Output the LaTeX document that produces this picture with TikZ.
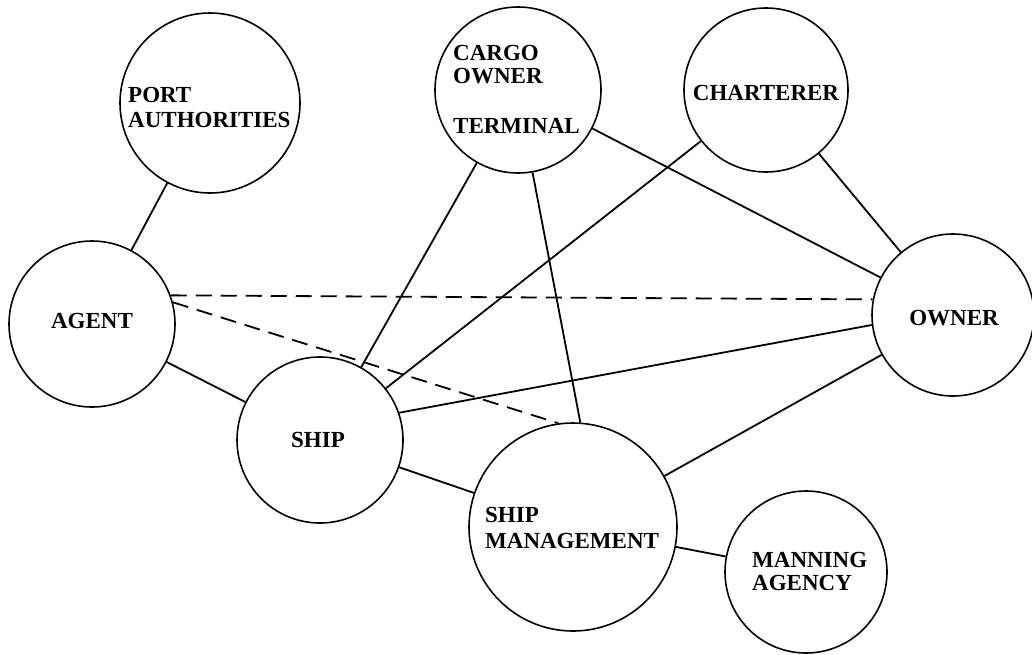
\documentclass[tikz,border=0pt]{standalone}
\usepackage{fontspec}
\setmainfont{Liberation Serif}
\begin{document}
\begin{tikzpicture}[x=1pt,y=-1pt,
  ent/.style={draw=black,circle,line width=1.6pt,inner sep=0pt,minimum size=#1},
  lbl/.style={anchor=base west,inner sep=0pt,font=\fontsize{23}{25}\selectfont\bfseries},
  clbl/.style={anchor=base,inner sep=0pt,font=\fontsize{23}{25}\selectfont\bfseries},
  link/.style={line width=1.8pt,black},
  dlink/.style={line width=1.8pt,black,dash pattern=on 16pt off 9pt}]
\path[use as bounding box,fill=white] (0,0) rectangle (1032,654);
% circles
\node[ent=180pt] (pa) at (210,103) {};
\node[ent=166pt] (cargo) at (518,90) {};
\node[ent=164pt] (char) at (766,90) {};
\node[ent=166pt] (agent) at (92,324) {};
\node[ent=162pt] (owner) at (953,315) {};
\node[ent=166pt] (ship) at (320,440) {};
\node[ent=208pt] (sm) at (573,527) {};
\node[ent=162pt] (man) at (806,572) {};
% labels
\node[lbl] (t1) at (128,102) {PORT};
\node[lbl] (t2) at (128,127) {AUTHORITIES};
\node[lbl] (t3) at (453,60) {CARGO};
\node[lbl] (t4) at (453,83) {OWNER};
\node[lbl] (t5) at (453,133) {TERMINAL};
\node[clbl] (t6) at (766,100) {CHARTERER};
\node[clbl] (t7) at (92,328) {AGENT};
\node[clbl] (t8) at (954,325) {OWNER};
\node[clbl] (t9) at (318,447) {SHIP};
\node[lbl] (t10) at (485,522) {SHIP};
\node[lbl] (t11) at (485,548) {MANAGEMENT};
\node[lbl] (t12) at (752,567) {MANNING};
\node[lbl] (t13) at (752,590) {AGENCY};
% connectors
\draw[link] (pa) -- (agent);
\draw[link] (agent) -- (ship);
\draw[link] (ship) -- (cargo);
\draw[link] (ship) -- (char);
\draw[link] (ship.19) -- (owner.187);
\draw[link] (ship) -- (sm);
\draw[link] (cargo.280) -- (sm.86);
\draw[link] (cargo) -- (owner);
\draw[link] (char) -- (owner);
\draw[link] (sm) -- (owner);
\draw[link] (sm) -- (man);
\draw[dlink] (agent.20) -- (owner.169);
\draw[dlink] (agent.15) -- (sm.98);
\end{tikzpicture}
\end{document}
